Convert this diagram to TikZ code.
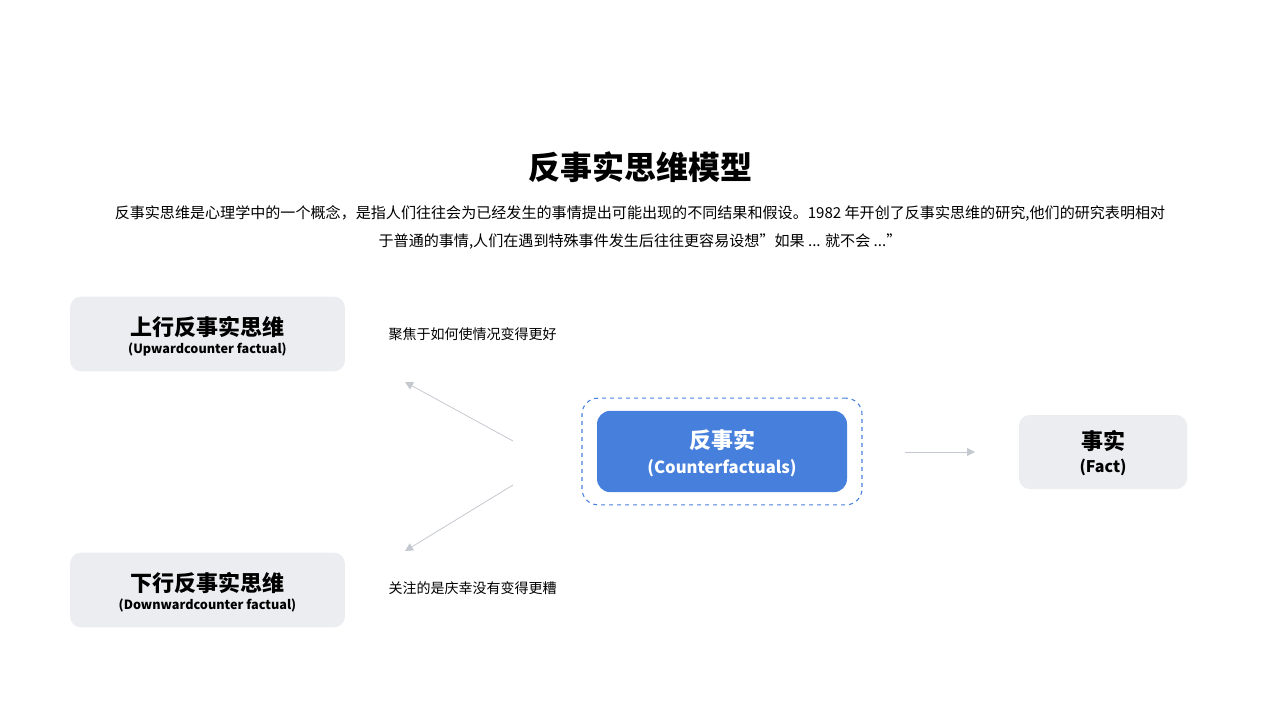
\documentclass[tikz,border=0pt]{standalone}
\usepackage{fontspec}
\setmainfont{Noto Sans CJK SC}
\usetikzlibrary{arrows.meta}
\definecolor{boxgray}{HTML}{ECEDF0}
\definecolor{mainblue}{HTML}{4680DC}
\definecolor{arrgray}{HTML}{C4C8CF}
\tikzset{
  graybox/.style={fill=boxgray,rounded corners=8pt,inner sep=0pt},
  conn/.style={draw=arrgray,line width=0.6pt,-{Triangle[length=6pt,width=6pt]}},
}
\begin{document}
\begin{tikzpicture}[x=0.75pt,y=-0.75pt]
\useasboundingbox (0,0) rectangle (1280,720);
\node (title) at (640,167) {\fontsize{24}{28}\selectfont\bfseries 反事实思维模型};
\node (p1) at (640,213) {\fontsize{11.3}{14}\selectfont 反事实思维是心理学中的一个概念，是指人们往往会为已经发生的事情提出可能出现的不同结果和假设。1982 年开创了反事实思维的研究,他们的研究表明相对};
\node (p2) at (640,242) {\fontsize{11.3}{14}\selectfont 于普通的事情,人们在遇到特殊事件发生后往往更容易设想”如果 ... 就不会 ..."};

\node[graybox,minimum width=206pt,minimum height=56pt] (up) at (207.5,334) {};
\node at (207.5,327) {\fontsize{16.5}{18}\selectfont\bfseries 上行反事实思维};
\node at (207.5,349) {\fontsize{9.5}{11}\selectfont\bfseries (Upwardcounter factual)};
\node[graybox,minimum width=206pt,minimum height=56pt] (down) at (207.5,590) {};
\node at (207.5,583) {\fontsize{16.5}{18}\selectfont\bfseries 下行反事实思维};
\node at (207.5,605) {\fontsize{9.5}{11}\selectfont\bfseries (Downwardcounter factual)};

\node[anchor=west] (l1) at (384,334) {\fontsize{10.5}{12}\selectfont 聚焦于如何使情况变得更好};
\node[anchor=west] (l2) at (384,588) {\fontsize{10.5}{12}\selectfont 关注的是庆幸没有变得更糟};

\node[draw=mainblue,dashed,line width=0.8pt,rounded corners=12pt,minimum width=210pt,minimum height=80pt] (dash) at (722,451.5) {};
\node[fill=mainblue,rounded corners=10pt,minimum width=187.5pt,minimum height=61pt] (cf) at (722,451.5) {};
\node[text=white] at (722,440) {\fontsize{16.5}{18}\selectfont\bfseries 反事实};
\node[text=white] at (722,468) {\fontsize{12.5}{14}\selectfont\bfseries (Counterfactuals)};

\node[graybox,minimum width=126pt,minimum height=55.5pt] (fact) at (1103,452) {};
\node at (1103,441) {\fontsize{16.5}{18}\selectfont\bfseries 事实};
\node at (1103,467) {\fontsize{12}{14}\selectfont\bfseries (Fact)};

\coordinate (a1s) at (513,441); \coordinate (a1e) at (405,382);
\coordinate (a2s) at (513,485); \coordinate (a2e) at (405,551);
\coordinate (a3s) at (905,452); \coordinate (a3e) at (975,452);
\draw[conn] (a1s) -- (a1e);
\draw[conn] (a2s) -- (a2e);
\draw[conn] (a3s) -- (a3e);
\end{tikzpicture}
\end{document}
